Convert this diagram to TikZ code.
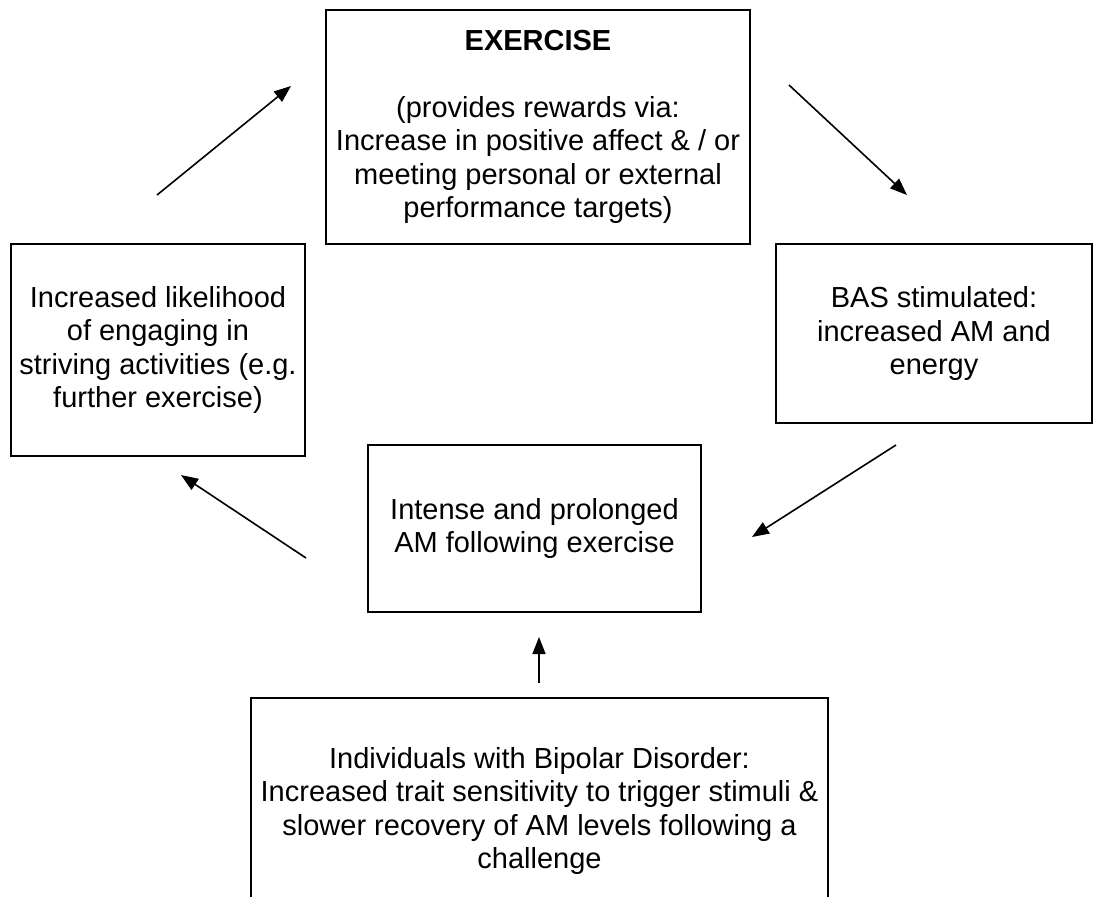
\documentclass[tikz,border=0pt]{standalone}
\usepackage{fontspec}
\setmainfont{Liberation Sans}
\usetikzlibrary{arrows.meta}

\tikzset{
  box/.style={draw, line width=0.9pt, align=center, inner sep=0pt,
    font=\fontsize{14.5pt}{16.7pt}\selectfont},
}

\begin{document}
\begin{tikzpicture}[x=0.5pt, y=-0.5pt, >={Triangle[length=8.5pt, width=6.5pt]}]
    \useasboundingbox (0, 0) rectangle (1094, 896);
    \clip (0, 0) rectangle (1094, 896);

    \node[box, minimum width=212pt, minimum height=117pt] (exercise) at (538, 127)
        {\textbf{EXERCISE}\\[16.7pt] (provides rewards via:\\ Increase in positive affect \& / or\\
         meeting personal or external\\ performance targets)};
    \node[box, minimum width=147pt, minimum height=106pt] (likely) at (158, 350)
        {Increased likelihood\\ of engaging in\\ striving activities (e.g.\\ further exercise)};
    \node[box, minimum width=158pt, minimum height=89.5pt] (bas) at (934, 333.5)
        {BAS stimulated:\\ increased AM and\\ energy};
    \node[box, minimum width=166.5pt, minimum height=83.5pt] (intense) at (534.5, 528.5)
        {Intense and prolonged\\ AM following exercise};
    \node[box, minimum width=288.5pt, minimum height=113pt] (bipolar) at (539.5, 811)
        {Individuals with Bipolar Disorder:\\ Increased trait sensitivity to trigger stimuli \&\\
         slower recovery of AM levels following a\\ challenge};

    \coordinate (A) at (157, 195);
    \coordinate (A') at (291, 86);
    \coordinate (B) at (789, 85);
    \coordinate (B') at (907, 195);
    \coordinate (C) at (896, 445);
    \coordinate (C') at (752, 537);
    \coordinate (D) at (306, 558);
    \coordinate (D') at (181, 475);
    \coordinate (E) at (539, 683);
    \coordinate (E') at (539, 637);
    \draw[thick, ->] (A) -- (A');
    \draw[thick, ->] (B) -- (B');
    \draw[thick, ->] (C) -- (C');
    \draw[thick, ->] (D) -- (D');
    \draw[thick, ->] (E) -- (E');
\end{tikzpicture}
\end{document}
